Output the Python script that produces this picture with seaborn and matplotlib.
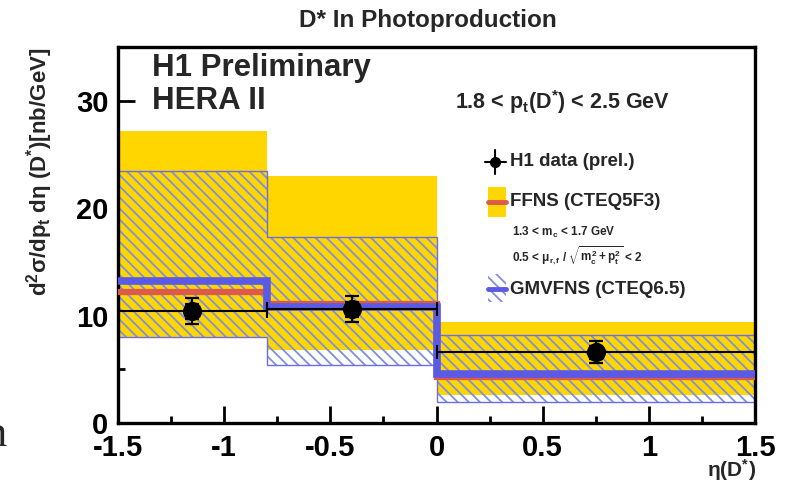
import matplotlib
matplotlib.use("Agg")
import matplotlib.pyplot as plt
from matplotlib.lines import Line2D
from matplotlib.patches import Rectangle
import numpy as np
import seaborn as sns

# --- data -----------------------------------------------------------------
eta_edges = [-1.5, -0.8, 0.0, 1.5]
eta_centres = [-1.15, -0.4, 0.75]
xsec = [10.4, 10.6, 6.6]
err_stat = [0.7, 0.7, 0.6]
err_tot = [1.2, 1.2, 1.05]

ffns_central = [12.2, 11.1, 4.3]
ffns_low = [8.0, 6.8, 2.6]
ffns_high = [27.2, 23.0, 9.4]

gmvfns_central = [13.2, 10.8, 4.6]
gmvfns_low = [8.0, 5.4, 1.95]
gmvfns_high = [23.5, 17.3, 8.2]

x_ticks = [-1.5, -1, -0.5, 0, 0.5, 1, 1.5]
x_tick_labels = ["-1.5", "-1", "-0.5", "0", "0.5", "1", "1.5"]
y_ticks = [0, 10, 20, 30]
y_tick_labels = ["0", "10", "20", "30"]

# --- style ----------------------------------------------------------------
sns.set_theme(style="ticks")
FONT = "Liberation Sans"
plt.rcParams["font.family"] = [FONT, "DejaVu Sans"]
plt.rcParams["font.weight"] = "bold"
plt.rcParams["mathtext.fontset"] = "custom"
plt.rcParams["mathtext.rm"] = f"{FONT}:bold"
plt.rcParams["mathtext.bf"] = f"{FONT}:bold"
plt.rcParams["mathtext.it"] = f"{FONT}:bold"
plt.rcParams["mathtext.sf"] = f"{FONT}:bold"
plt.rcParams["hatch.linewidth"] = 1.3

YELLOW = "#ffd600"
RED = "#dc5a4a"
BLUE = "#5a5ae4"
HATCH = "#7f8fe0"
OUTLINE = "#6c6ce6"

W, H = 787, 487
fig = plt.figure(figsize=(W / 100, H / 100), dpi=100)
ax = fig.add_axes([118 / W, 1 - 423 / H, (755 - 118) / W, (423 - 47) / H])


def fpx(x, y):
    """Figure-fraction coordinates from pixel positions."""
    return x / W, 1 - y / H


# FFNS uncertainty band (solid)
ax.stairs(ffns_high, eta_edges, baseline=ffns_low, fill=True,
          color=YELLOW, zorder=1)
# GMVFNS uncertainty band (hatched)
ax.stairs(gmvfns_high, eta_edges, baseline=gmvfns_low, fill=True,
          facecolor="none", edgecolor=HATCH, hatch="\\\\\\", linewidth=0,
          zorder=2)
ax.stairs(gmvfns_high, eta_edges, baseline=gmvfns_low, fill=False,
          color=OUTLINE, linewidth=1.0, zorder=2.5)

# central predictions
ax.stairs(ffns_central, eta_edges, baseline=None, color=RED, linewidth=4.5,
          zorder=3)
ax.stairs(gmvfns_central, eta_edges, baseline=None, color=BLUE,
          linewidth=5.5, zorder=4)

# data: bin widths as horizontal bars, stat and total uncertainties
x_half = [(eta_edges[i + 1] - eta_edges[i]) / 2 for i in range(len(xsec))]
x_mid = [(eta_edges[i + 1] + eta_edges[i]) / 2 for i in range(len(xsec))]
ax.errorbar(x_mid, xsec, xerr=x_half, fmt="none", ecolor="black",
            elinewidth=1.5, capsize=5, capthick=1.5, zorder=5)
ax.errorbar(eta_centres, xsec, yerr=err_tot, fmt="none", ecolor="black",
            elinewidth=1.6, capsize=5, capthick=1.6, zorder=5)
ax.errorbar(eta_centres, xsec, yerr=err_stat, fmt="none", ecolor="black",
            elinewidth=1.6, capsize=5, capthick=1.6, zorder=5)
sns.scatterplot(x=eta_centres, y=xsec, ax=ax, s=190, color="black",
                edgecolor="black", linewidth=0, zorder=6, legend=False)

# axes
ax.set_xlim(-1.5, 1.5)
ax.set_ylim(0, 35)
ax.set_xticks(x_ticks, x_tick_labels)
ax.set_yticks(y_ticks, y_tick_labels)
ax.set_xticks(np.arange(-1.25, 1.5, 0.5), minor=True)
ax.set_yticks([5, 15, 25], minor=True)
ax.tick_params(axis="both", which="major", direction="in", length=12,
               width=2, labelsize=21, colors="black", pad=7)
ax.tick_params(axis="both", which="minor", direction="in", length=5,
               width=2, colors="black")
ax.tick_params(axis="x", which="major", pad=8)
for sp in ax.spines.values():
    sp.set_linewidth(2.4)
    sp.set_color("black")
ax.set_xlabel("")
ax.set_ylabel("")
for lab in ax.get_xticklabels() + ax.get_yticklabels():
    lab.set_fontweight("bold")

# titles and labels
fig.text(*fpx(428, 20), "D* In Photoproduction", ha="center", va="center",
         fontsize=17.5, fontweight="bold")
fig.text(*fpx(40, 48), "d$^2$σ/dp$_t$ dη (D$^{*}$)[nb/GeV]", rotation=90,
         ha="center", va="top", fontsize=16, fontweight="bold")
fig.text(*fpx(756, 470), "η(D$^{*}$)", ha="right", va="center", fontsize=15,
         fontweight="bold")
fig.text(*fpx(7, 435), "n", ha="right", va="center", fontsize=32,
         family="Liberation Serif", fontweight="normal")

fig.text(*fpx(152, 68), "H1 Preliminary", ha="left", va="center",
         fontsize=22.5, fontweight="bold")
fig.text(*fpx(152, 101), "HERA II", ha="left", va="center",
         fontsize=22.5, fontweight="bold")
fig.text(*fpx(455, 102), "1.8 < p$_t$(D$^{*}$) < 2.5 GeV", ha="left",
         va="center", fontsize=15.5, fontweight="bold")

# legend, drawn by hand
lx0, lx1 = 485, 506
fig.add_artist(Line2D([fpx(lx0, 0)[0], fpx(lx1, 0)[0]],
                      [fpx(0, 162)[1]] * 2, color="black", lw=1.5))
fig.add_artist(Line2D([fpx(495.5, 0)[0]] * 2,
                      [fpx(0, 150)[1], fpx(0, 174)[1]], color="black", lw=1.5))
fig.add_artist(Line2D([fpx(495.5, 0)[0]], [fpx(0, 162)[1]], marker="o",
                      markersize=7, color="black"))
fig.text(*fpx(510, 162), "H1 data (prel.)", ha="left", va="center",
         fontsize=13.5, fontweight="bold")

fig.add_artist(Rectangle(fpx(488, 217), 18 / W, 30 / H, facecolor=YELLOW,
                         edgecolor="none", transform=fig.transFigure))
fig.add_artist(Line2D([fpx(488, 0)[0], fpx(506, 0)[0]],
                      [fpx(0, 202)[1]] * 2, color=RED, lw=3.5))
fig.text(*fpx(510, 202), "FFNS (CTEQ5F3)", ha="left", va="center",
         fontsize=13.5, fontweight="bold")
fig.text(*fpx(512, 232), "1.3 < m$_c$ < 1.7 GeV", ha="left", va="center",
         fontsize=8.5, fontweight="bold")
fig.text(*fpx(512, 256), r"0.5 < μ$_{r,f}$ / $\sqrt{m_c^2+p_t^2}$ < 2",
         ha="left", va="center", fontsize=8.5, fontweight="bold")

fig.add_artist(Rectangle(fpx(488, 302), 18 / W, 28 / H, facecolor="none",
                         edgecolor=HATCH, hatch="\\\\\\", linewidth=0,
                         transform=fig.transFigure))
fig.add_artist(Line2D([fpx(488, 0)[0], fpx(506, 0)[0]],
                      [fpx(0, 289)[1]] * 2, color=BLUE, lw=3.5))
fig.text(*fpx(510, 290), "GMVFNS (CTEQ6.5)", ha="left", va="center",
         fontsize=13.5, fontweight="bold")

fig.savefig("out.png", dpi=100)
